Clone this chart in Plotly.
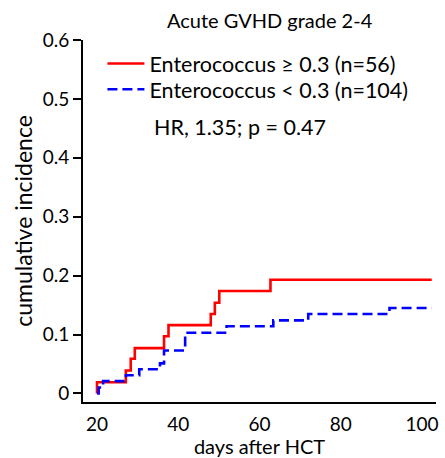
import plotly.graph_objects as go

# Data (step functions, day -> cumulative incidence)
red_days = [20, 20, 27.1, 28.3, 29.3, 36.5, 37.6, 48.0, 49.0, 50.1, 62.7, 102.4]
red_ci   = [0, 0.019, 0.039, 0.059, 0.077, 0.097, 0.116, 0.135, 0.154, 0.174, 0.193, 0.193]

blue_days = [20, 20.4, 21.5, 27.1, 30.4, 35.5, 36.5, 41.7, 51.9, 63.4, 72.0, 92.0, 102.4]
blue_ci   = [0, 0.010, 0.021, 0.031, 0.041, 0.051, 0.073, 0.103, 0.114, 0.124, 0.135, 0.145, 0.145]

red_name = "Enterococcus \u2265 0.3 (n=56)"
blue_name = "Enterococcus < 0.3 (n=104)"
title_text = "Acute GVHD grade 2-4"
hr_text = "HR, 1.35; p = 0.47"
x_ticks = [20, 40, 60, 80, 100]
y_ticks = [0, 0.1, 0.2, 0.3, 0.4, 0.5, 0.6]
y_ticklabels = ["0", "0.1", "0.2", "0.3", "0.4", "0.5", "0.6"]

FONT = "Lato"

fig = go.Figure()
fig.add_trace(go.Scatter(x=red_days, y=red_ci, mode="lines", line_shape="hv",
                         line=dict(color="#ff0000", width=2.6), name=red_name,
                         legend="legend"))
fig.add_trace(go.Scatter(x=blue_days, y=blue_ci, mode="lines", line_shape="hv",
                         line=dict(color="#0000ff", width=2.6, dash="10px,5px"), name=blue_name,
                         legend="legend2"))

leg_common = dict(xanchor="left", yanchor="middle", itemwidth=37,
                  bgcolor="rgba(0,0,0,0)", font=dict(size=21.5))

fig.update_layout(
    width=445, height=458,
    margin=dict(l=83, r=9, t=40, b=56),
    paper_bgcolor="white", plot_bgcolor="white",
    font=dict(family=FONT, size=19, color="black"),
    showlegend=True,
    legend=dict(x=0.055, y=0.935, **leg_common),
    legend2=dict(x=0.055, y=0.864, **leg_common),
    xaxis=dict(range=[16.55, 103.45], tickvals=x_ticks, showline=True, linecolor="black",
               linewidth=2, ticks="outside", ticklen=4, tickcolor="rgba(0,0,0,0)",
               showgrid=False, zeroline=False, automargin=False,
               title=dict(text="days after HCT", font=dict(size=20), standoff=6)),
    yaxis=dict(range=[-0.0145, 0.6], tickvals=y_ticks, ticktext=y_ticklabels, showline=True,
               linecolor="black", linewidth=2, ticks="outside", ticklen=8, tickwidth=2,
               tickcolor="black", showgrid=False, zeroline=False, automargin=False,
               title=dict(text="cumulative incidence", font=dict(size=23), standoff=4)),
    annotations=[
        dict(text=title_text, xref="paper", yref="paper", x=0.53, y=1.055,
             xanchor="center", yanchor="middle", showarrow=False, font=dict(size=20)),
        dict(text=hr_text, xref="paper", yref="paper", x=0.196, y=0.76,
             xanchor="left", yanchor="middle", showarrow=False, font=dict(size=21.5)),
    ],
)

fig.write_html("out.html")
